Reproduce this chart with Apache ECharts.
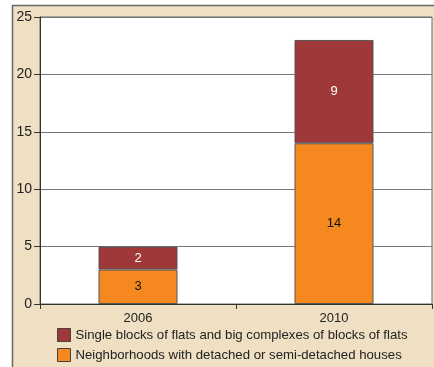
<!DOCTYPE html>
<html><head><meta charset="utf-8">
<script src="https://cdn.jsdelivr.net/npm/echarts@6/dist/echarts.min.js"></script>
<style>html,body{margin:0;padding:0;background:#fff;}#c{width:434px;height:367px;}</style>
</head><body><div id="c"></div>
<script>
var categories = ['2006', '2010'];
var seriesNames = ['Single blocks of flats and big complexes of blocks of flats', 'Neighborhoods with detached or semi-detached houses'];
var flats = [2, 9];
var houses = [3, 14];
var yTicks = [0, 5, 10, 15, 20, 25];

var chart = echarts.init(document.getElementById('c'), null, {renderer: 'canvas'});
var font = '"Liberation Sans", Arial, sans-serif';
chart.setOption({
  animation: false,
  backgroundColor: 'transparent',
  graphic: [{
    type: 'rect', z: -10, silent: true,
    shape: {x: 12.5, y: 5.5, width: 440, height: 400},
    style: {fill: '#efdfc3', stroke: '#666', lineWidth: 1.5}
  }],
  grid: {left: 40, top: 17, right: 2, bottom: 63, show: true, backgroundColor: '#fff', borderColor: '#666', borderWidth: 1},
  legend: {
    orient: 'vertical', left: 57, top: 328, itemWidth: 13, itemHeight: 13, itemGap: 6, padding: 0,
    icon: 'rect',
    data: [seriesNames[0], seriesNames[1]],
    textStyle: {fontFamily: font, fontSize: 13.2, color: '#222'},
    itemStyle: {borderColor: '#444', borderWidth: 1}
  },
  xAxis: {
    type: 'category', data: categories,
    axisLine: {lineStyle: {color: '#333', width: 1}},
    axisTick: {show: true, length: 5, lineStyle: {color: '#333'}},
    axisLabel: {fontFamily: font, fontSize: 13, color: '#222', margin: 8}
  },
  yAxis: {
    type: 'value', min: 0, max: 25, interval: 5,
    axisLine: {show: true, lineStyle: {color: '#333', width: 1}},
    axisTick: {show: true, length: 6, lineStyle: {color: '#333'}},
    axisLabel: {fontFamily: font, fontSize: 14, color: '#222', margin: 8,
      formatter: function (v) { return yTicks.indexOf(v) >= 0 ? String(v) : ''; }},
    splitLine: {show: true, lineStyle: {color: '#777', width: 1}}
  },
  series: [{
    name: seriesNames[1], type: 'bar', stack: 's', data: houses, barWidth: 79,
    itemStyle: {color: '#f5891f', borderColor: '#555', borderWidth: 1},
    label: {show: true, position: 'inside', color: '#111', fontFamily: font, fontSize: 13}
  }, {
    name: seriesNames[0], type: 'bar', stack: 's', data: flats, barWidth: 79,
    itemStyle: {color: '#9e3839', borderColor: '#555', borderWidth: 1},
    label: {show: true, position: 'inside', color: '#fff', fontFamily: font, fontSize: 13}
  }]
});
</script></body></html>
